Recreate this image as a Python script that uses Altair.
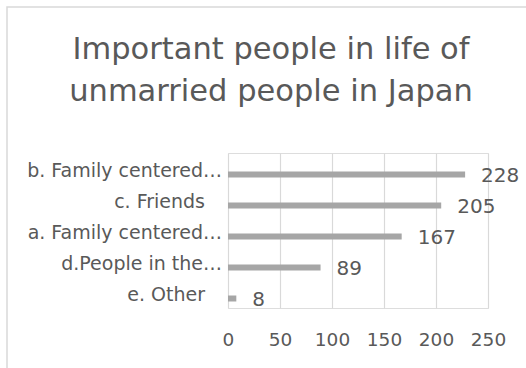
import altair as alt
import pandas as pd

categories = ["b. Family centered…", "c. Friends", "a. Family centered…", "d.People in the…", "e. Other"]
values = [228, 205, 167, 89, 8]
x_ticks = [0, 50, 100, 150, 200, 250]
title_lines = ["Important people in life of", "unmarried people in Japan"]
short_labels = ["c. Friends", "e. Other"]

df = pd.DataFrame({"category": categories, "value": values})

FONT = "DejaVu Sans"
TEXT = "#595959"
GRID = "#d9d9d9"
BAR = "#a6a6a6"

y_enc = alt.Y(
    "category:N",
    sort=categories,
    scale=alt.Scale(paddingInner=0, paddingOuter=0),
    axis=None,
)
x_enc = alt.X(
    "value:Q",
    scale=alt.Scale(domain=[0, 250], nice=False),
    axis=alt.Axis(title=None, values=x_ticks, domain=False, ticks=False,
                  grid=True, gridColor=GRID, gridWidth=1.2, labelFont=FONT,
                  labelFontSize=18.5, labelColor=TEXT, labelPadding=22,
                  labelFlush=False),
)

frame = alt.Chart(pd.DataFrame({"k": [0]})).mark_rect(
    fill="transparent", stroke=GRID, strokeWidth=1.5
).encode(x=alt.value(-221), x2=alt.value(400), y=alt.value(-146), y2=alt.value(300))

bars = alt.Chart(df).mark_bar(size=6, color=BAR, yOffset=6).encode(x=x_enc, y=y_enc)

labels = alt.Chart(df).mark_text(
    align="left", baseline="middle", dx=16, yOffset=7, font=FONT, fontSize=20, color=TEXT
).encode(x=x_enc, y=y_enc, text="value:Q")

cat_long = alt.Chart(df).transform_filter(
    alt.FieldOneOfPredicate(field="category", oneOf=short_labels).__invert__()
).mark_text(align="right", baseline="middle", font=FONT, fontSize=19, color=TEXT, yOffset=2).encode(
    x=alt.value(-6), y=y_enc, text="category:N"
)
cat_short = alt.Chart(df).transform_filter(
    alt.FieldOneOfPredicate(field="category", oneOf=short_labels)
).mark_text(align="right", baseline="middle", font=FONT, fontSize=19, color=TEXT, yOffset=2).encode(
    x=alt.value(-23), y=y_enc, text="category:N"
)

chart = alt.layer(frame, bars, labels, cat_long, cat_short).properties(
    width=260,
    height=155,
    padding={"left": 228, "top": 153, "right": 38, "bottom": 60},
    autosize=alt.AutoSizeParams(type="none"),
    title=alt.TitleParams(
        text=title_lines, font=FONT, fontSize=30.5, fontWeight="normal",
        color=TEXT, lineHeight=42, anchor="middle", dx=-87, offset=-101,
    ),
).configure_view(stroke=None).configure(background="white")

chart.save("out.html", embed_options={"renderer": "svg", "actions": False})
